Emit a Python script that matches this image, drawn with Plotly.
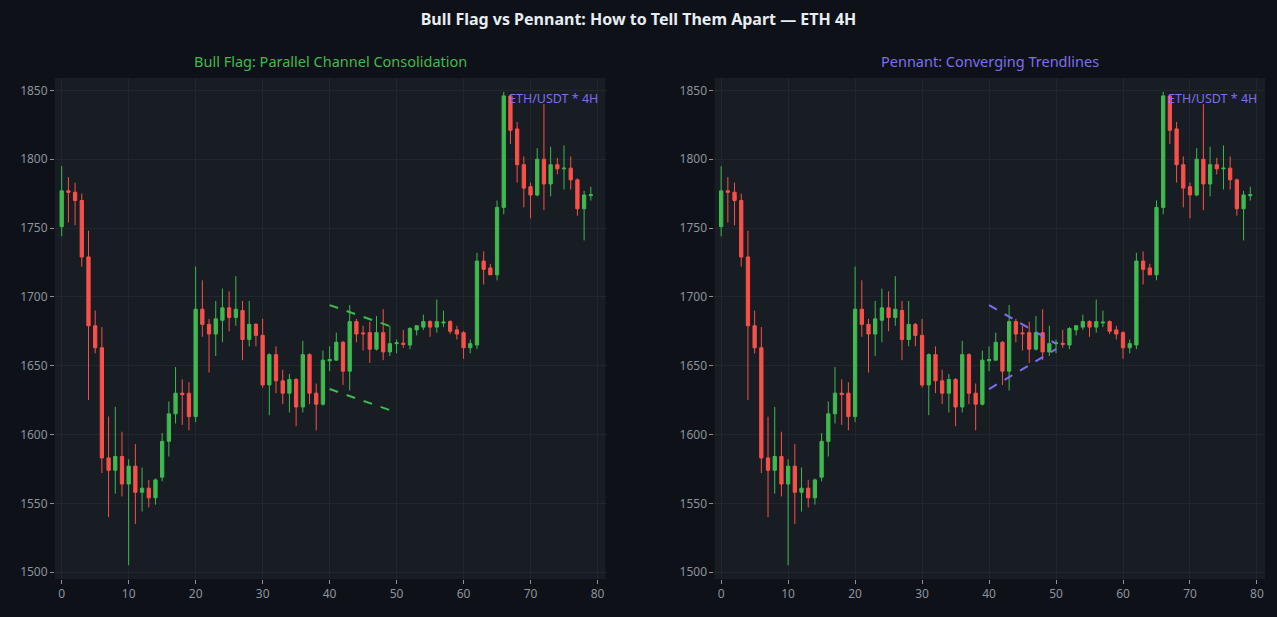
import plotly.graph_objects as go
from plotly.subplots import make_subplots

# ETH 4H candles
idx = list(range(80))
opens = [1751, 1777, 1776, 1770, 1729, 1679, 1663, 1583, 1574, 1584,
         1564, 1577, 1558, 1561, 1554, 1569, 1595, 1615, 1630, 1630,
         1613, 1691, 1680, 1673, 1683, 1692, 1685, 1690, 1669, 1680,
         1672, 1636, 1658, 1639, 1630, 1640, 1620, 1658, 1630, 1622,
         1653.5, 1654, 1667, 1646, 1682, 1673.8, 1674, 1662, 1674, 1660,
         1666, 1666.3, 1665, 1676, 1678, 1682, 1678, 1681, 1682, 1676,
         1674, 1663, 1665, 1726, 1721, 1716, 1765, 1846, 1822, 1796,
         1780, 1774, 1800, 1782, 1796, 1793, 1793.5, 1785, 1764, 1773.5]
highs = [1795, 1787, 1783, 1775, 1748, 1690, 1678, 1613, 1620, 1602,
         1582, 1593, 1576, 1567, 1568, 1601, 1624, 1649, 1640, 1638,
         1722, 1712, 1684, 1697, 1706, 1704, 1715, 1697, 1697, 1681,
         1684, 1659, 1664, 1647, 1644, 1641, 1668, 1659, 1637, 1661,
         1664, 1674, 1668, 1694, 1684, 1679, 1682, 1686, 1691, 1679,
         1669, 1676, 1678, 1679, 1687, 1683, 1698, 1690, 1683, 1679,
         1675, 1669, 1732, 1733, 1724, 1770, 1849, 1846.5, 1827, 1802,
         1783, 1808, 1840, 1809, 1801, 1810, 1802, 1786, 1777, 1780]
lows = [1744, 1754, 1752, 1722, 1625, 1659, 1572, 1540, 1557, 1555,
        1505, 1535, 1544, 1547, 1549, 1566, 1584, 1608, 1607, 1603,
        1609, 1671, 1645, 1657, 1667, 1675, 1679, 1654, 1664, 1664,
        1634, 1614, 1630, 1622, 1616, 1606, 1616, 1622, 1603, 1621,
        1646, 1654, 1636, 1632, 1667, 1661, 1652, 1661, 1654, 1657,
        1659, 1663, 1662, 1672, 1676, 1671, 1674, 1678, 1673, 1669,
        1655, 1659, 1662, 1709, 1716, 1712, 1760, 1811, 1783, 1765,
        1757, 1773, 1763, 1773, 1789, 1778, 1778, 1759, 1741, 1770]
closes = [1777, 1776, 1770, 1729, 1679, 1663, 1583, 1574, 1584, 1564,
          1577, 1558, 1561, 1554, 1567, 1595, 1615, 1630, 1629, 1613,
          1691, 1680, 1673, 1684, 1692, 1685, 1691, 1669, 1680, 1672,
          1636, 1658, 1639, 1630, 1640, 1620, 1658, 1630, 1622, 1654,
          1654.5, 1667, 1646, 1682, 1673, 1673.2, 1662, 1674, 1660, 1666,
          1666.6, 1665.5, 1677, 1679, 1682, 1678, 1682, 1681.6, 1675, 1673,
          1663, 1666, 1726, 1720, 1716, 1765, 1846, 1821, 1796, 1779,
          1774, 1800, 1782, 1796, 1793, 1793.5, 1785, 1764, 1774, 1774.2]

# pattern trendlines (x = candle index)
flag_x = [40, 50]
flag_upper = [1694, 1677]
flag_lower = [1633, 1616]
pennant_x = [40, 50]
pennant_upper = [1694, 1666]
pennant_lower = [1633, 1662]

GREEN = "#3fb950"
RED = "#f85149"
PURPLE = "#7c6ff0"
BG = "#0e1117"
PLOT_BG = "#181c23"
GRID = "#22272e"
TICK = "#8b949e"

fig = make_subplots(rows=1, cols=2, horizontal_spacing=0.09,
                    subplot_titles=("Bull Flag: Parallel Channel Consolidation",
                                    "Pennant: Converging Trendlines"))

for col in (1, 2):
    fig.add_trace(go.Candlestick(x=idx, open=opens, high=highs, low=lows, close=closes,
                                 increasing=dict(line=dict(color=GREEN, width=1), fillcolor=GREEN),
                                 decreasing=dict(line=dict(color=RED, width=1), fillcolor=RED),
                                 showlegend=False, name="ETH"),
                  row=1, col=col)

for ys in (flag_upper, flag_lower):
    fig.add_trace(go.Scatter(x=flag_x, y=ys, mode="lines", showlegend=False,
                             line=dict(color=GREEN, width=2, dash="dash")), row=1, col=1)
for ys in (pennant_upper, pennant_lower):
    fig.add_trace(go.Scatter(x=pennant_x, y=ys, mode="lines", showlegend=False,
                             line=dict(color=PURPLE, width=2, dash="dash")), row=1, col=2)

# colour the subplot titles
fig.layout.annotations[0].update(font=dict(color=GREEN, size=14.5), yshift=5)
fig.layout.annotations[1].update(font=dict(color=PURPLE, size=14.5), yshift=5)

for xr, yr in (("x domain", "y domain"), ("x2 domain", "y2 domain")):
    fig.add_annotation(text="ETH/USDT * 4H", xref=xr, yref=yr, x=0.99, y=0.96,
                       xanchor="right", yanchor="middle", showarrow=False,
                       font=dict(color=PURPLE, size=12.5))

fig.update_xaxes(range=[-1, 81.2], dtick=10, rangeslider_visible=False, showgrid=True,
                 gridcolor=GRID, zeroline=False, ticks="outside", ticklen=4, tickcolor=TICK,
                 tickfont=dict(color=TICK, size=12), showline=False)
fig.update_yaxes(range=[1495, 1859], dtick=50, showgrid=True, gridcolor=GRID, zeroline=False,
                 ticks="outside", ticklen=4, tickcolor=TICK,
                 tickfont=dict(color=TICK, size=12), showline=False)

fig.update_layout(
    title=dict(text="<b>Bull Flag vs Pennant: How to Tell Them Apart — ETH 4H</b>",
               x=0.5, xanchor="center", y=0.968, yanchor="middle",
               font=dict(color="#e6edf3", size=16)),
    font=dict(family="Noto Sans"),
    paper_bgcolor=BG, plot_bgcolor=PLOT_BG,
    width=1277, height=617,
    margin=dict(l=55, r=12, t=78, b=38),
)

fig.write_html("out.html", config={"displayModeBar": False},
               post_script="document.body.style.margin = '0';")
